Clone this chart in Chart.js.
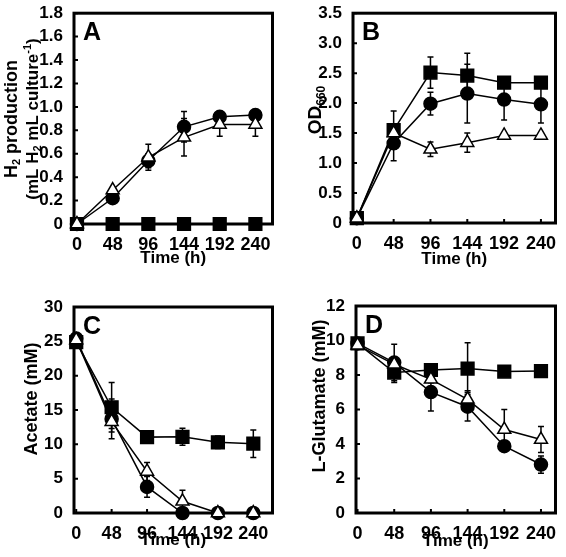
<!DOCTYPE html>
<html>
<head>
<meta charset="utf-8">
<script src="https://cdn.jsdelivr.net/npm/chart.js@4.4.0/dist/chart.umd.min.js"></script>
<style>
  html, body { margin: 0; padding: 0; background: #fff; }
  #figure { position: relative; width: 566px; height: 557px; }
  #figure canvas { position: absolute; }
</style>
</head>
<body>
<div id="figure">
  <canvas id="panelA" width="283" height="278" style="left:0;top:0"></canvas>
  <canvas id="panelB" width="283" height="278" style="left:283px;top:0"></canvas>
  <canvas id="panelC" width="283" height="278" style="left:0;top:279px"></canvas>
  <canvas id="panelD" width="283" height="278" style="left:283px;top:279px"></canvas>
</div>
<script>
// sampling times (h)
const timeH = [0, 48, 96, 144, 192, 240];
const timeTicks = ['0', '48', '96', '144', '192', '240'];

// A: H2 production
const aCircle = [0, 0.22, 0.54, 0.83, 0.915, 0.93];
const aCircleErr = [0, 0.02, 0.06, 0.13, 0.03, 0.02];
const aTriangle = [0, 0.29, 0.57, 0.74, 0.85, 0.85];
const aTriangleErr = [0, 0.02, 0.11, 0.16, 0.1, 0.1];
const aSquare = [0, 0, 0, 0, 0, 0];
const aSquareErr = [0, 0, 0, 0, 0, 0];
const aTicks = ['0', '0.2', '0.4', '0.6', '0.8', '1.0', '1.2', '1.4', '1.6', '1.8'];
const aTitle = [
  [['H'], ['2', 'sub'], [' production']],
  [['(mL H'], ['2', 'sub'], [' mL culture'], ['-1', 'sup'], [')']]
];

// B: OD660
const bCircle = [0.08, 1.33, 1.99, 2.16, 2.06, 1.98];
const bCircleErr = [0, 0.29, 0.19, 0.49, 0.34, 0.31];
const bTriangle = [0.08, 1.5, 1.23, 1.34, 1.46, 1.46];
const bTriangleErr = [0, 0.05, 0.12, 0.16, 0.03, 0.03];
const bSquare = [0.08, 1.55, 2.51, 2.46, 2.34, 2.34];
const bSquareErr = [0, 0.32, 0.26, 0.37, 0.05, 0.05];
const bTicks = ['0', '0.5', '1.0', '1.5', '2.0', '2.5', '3.0', '3.5'];
const bTitle = [[['OD'], ['660', 'sub']]];

// C: acetate
const cCircle = [25.4, 13.7, 3.8, 0, 0, 0];
const cCircleErr = [0, 2.9, 1.5, 0, 0, 0];
const cTriangle = [25.2, 13.3, 6.05, 1.7, 0, 0];
const cTriangleErr = [0, 1, 1.3, 1.6, 0, 0];
const cSquare = [24.9, 15.4, 11.05, 11.1, 10.3, 10.1];
const cSquareErr = [0, 3.6, 0.4, 1.25, 0.9, 2.0];
const cTicks = ['0', '5', '10', '15', '20', '25', '30'];
const cTitle = [[['Acetate (mM)']]];

// D: L-glutamate
const dCircle = [9.83, 8.72, 7.01, 6.16, 3.87, 2.81];
const dCircleErr = [0, 1.06, 1.1, 0.83, 0.15, 0.5];
const dTriangle = [9.73, 8.62, 7.75, 6.59, 4.84, 4.26];
const dTriangleErr = [0, 0.2, 0.2, 0.5, 1.16, 0.75];
const dSquare = [9.83, 8.14, 8.29, 8.37, 8.2, 8.23];
const dSquareErr = [0, 0.58, 0.1, 1.5, 0.1, 0.1];
const dTicks = ['0', '2', '4', '6', '8', '10', '12'];
const dTitle = [[['L-Glutamate (mM)']]];

const FONT = '"Liberation Sans", Arial, sans-serif';

// rotated y title with sub/superscripts
function drawRotatedRich(ctx, runs, cx, cy, size) {
  ctx.save();
  ctx.translate(cx, cy);
  ctx.rotate(-Math.PI / 2);
  ctx.textBaseline = 'middle';
  ctx.fillStyle = '#000';
  let total = 0;
  const parts = runs.map(([t, kind]) => {
    const s = kind ? Math.round(size * 0.62) : size;
    ctx.font = `bold ${s}px ${FONT}`;
    const w = ctx.measureText(t).width;
    total += w;
    return { t, kind, s, w };
  });
  let x = -total / 2;
  parts.forEach(p => {
    ctx.font = `bold ${p.s}px ${FONT}`;
    const dy = p.kind === 'sub' ? size * 0.3 : p.kind === 'sup' ? -size * 0.3 : 0;
    ctx.fillText(p.t, x, dy);
    x += p.w;
  });
  ctx.restore();
}

// frame, inward ticks, error bars, panel letter, y title
const framePlugin = {
  id: 'frame',
  beforeDatasetsDraw(chart, args, opts) {
    const { ctx, chartArea: a } = chart;
    const xs = chart.scales.x, ys = chart.scales.y;
    ctx.save();
    ctx.strokeStyle = '#000';

    // error bars
    ctx.lineWidth = 1.5;
    chart.data.datasets.forEach((ds) => {
      (ds.errors || []).forEach((e, i) => {
        if (!e) return;
        const x = xs.getPixelForValue(ds.data[i].x);
        const y1 = ys.getPixelForValue(ds.data[i].y + e);
        const y2 = ys.getPixelForValue(Math.max(ds.data[i].y - e, 0));
        ctx.beginPath();
        ctx.moveTo(x, y1); ctx.lineTo(x, y2);
        ctx.moveTo(x - 3, y1); ctx.lineTo(x + 3, y1);
        ctx.moveTo(x - 3, y2); ctx.lineTo(x + 3, y2);
        ctx.stroke();
      });
    });

    // inward ticks
    ctx.lineWidth = 2;
    ctx.beginPath();
    xs.ticks.forEach((t, i) => {
      const x = xs.getPixelForTick(i);
      ctx.moveTo(x, a.bottom); ctx.lineTo(x, a.bottom - 4);
    });
    ys.ticks.forEach((t, i) => {
      const y = ys.getPixelForTick(i);
      ctx.moveTo(a.left, y); ctx.lineTo(a.left + 4, y);
    });
    ctx.stroke();

    // frame
    ctx.lineWidth = 3;
    ctx.strokeRect(a.left, a.top, a.right - a.left, a.bottom - a.top);

    // panel letter
    ctx.fillStyle = '#000';
    ctx.font = 'bold 25px ' + FONT;
    ctx.textBaseline = 'alphabetic';
    ctx.fillText(opts.letter, a.left + 9, a.top + 27);
    ctx.restore();

    // y title lines
    opts.title.forEach((line, k) => {
      drawRotatedRich(ctx, line, opts.titleX[k], opts.titleY, opts.titleSize[k]);
    });
  }
};

function series(values, errors, style) {
  const base = {
    data: timeH.map((t, i) => ({ x: t, y: values[i] })),
    errors: errors,
    borderColor: '#000',
    borderWidth: 1.5,
    pointBorderColor: '#000',
    pointBorderWidth: 1.5,
    pointHoverRadius: 0,
    clip: false
  };
  if (style === 'circle') return { ...base, pointStyle: 'circle', pointRadius: 6.5, pointBackgroundColor: '#000' };
  if (style === 'rect') return { ...base, pointStyle: 'rect', pointRadius: 9, pointBackgroundColor: '#000' };
  return { ...base, pointStyle: 'triangle', pointRadius: 7.5, pointBackgroundColor: '#fff' };
}

function makePanel(p) {
  const canvas = document.getElementById(p.id);
  const H = canvas.height, W = canvas.width;
  new Chart(canvas, {
    type: 'line',
    data: {
      datasets: [
        series(p.triangle, p.triangleErr, 'triangle'),
        series(p.circle, p.circleErr, 'circle'),
        series(p.square, p.squareErr, 'rect')
      ]
    },
    options: {
      responsive: false,
      animation: false,
      events: [],
      layout: { padding: { top: p.area.top, right: W - p.area.right, left: 0, bottom: 0 } },
      plugins: {
        legend: { display: false },
        tooltip: { enabled: false },
        frame: { letter: p.letter, title: p.yTitle, titleX: p.titleX, titleY: p.titleY, titleSize: p.titleSize }
      },
      scales: {
        x: {
          type: 'linear',
          min: p.xMin,
          max: p.xMax,
          afterBuildTicks: (scale) => { scale.ticks = timeH.map(v => ({ value: v })); },
          afterFit: (scale) => { scale.height = H - p.area.bottom; },
          grid: { display: false },
          border: { display: false },
          ticks: {
            color: '#000',
            font: { family: FONT, size: 18, weight: 'bold' },
            padding: 2,
            maxRotation: 0,
            autoSkip: false,
            callback: (v, i) => timeTicks[i]
          },
          title: {
            display: true,
            text: 'Time (h)',
            color: '#000',
            font: { family: FONT, size: 17, weight: 'bold' },
            padding: { top: 0, bottom: p.xTitlePad }
          }
        },
        y: {
          min: 0,
          max: p.yMax,
          afterBuildTicks: (scale) => { scale.ticks = p.yTicks.map((s, i) => ({ value: i * p.yStep })); },
          afterFit: (scale) => { scale.width = p.area.left; },
          grid: { display: false },
          border: { display: false },
          ticks: {
            color: '#000',
            font: { family: FONT, size: 17, weight: 'bold' },
            padding: 3,
            callback: (v, i) => p.yTicks[i]
          },
          title: { display: false }
        }
      }
    },
    plugins: [framePlugin]
  });
}

makePanel({
  id: 'panelA', letter: 'A', xMin: -4, xMax: 263, yMax: 1.8, yStep: 0.2, yTicks: aTicks,
  yTitle: aTitle, titleX: [12, 33], titleY: 119, titleSize: [18, 17],
  circle: aCircle, circleErr: aCircleErr, triangle: aTriangle, triangleErr: aTriangleErr, square: aSquare, squareErr: aSquareErr,
  area: { left: 74, right: 274, top: 7, bottom: 224 }, xTitlePad: 9
});
makePanel({
  id: 'panelB', letter: 'B', xMin: -5, xMax: 259, yMax: 3.5, yStep: 0.5, yTicks: bTicks,
  yTitle: bTitle, titleX: [33], titleY: 110, titleSize: [19],
  circle: bCircle, circleErr: bCircleErr, triangle: bTriangle, triangleErr: bTriangleErr, square: bSquare, squareErr: bSquareErr,
  area: { left: 70, right: 275, top: 7, bottom: 223 }, xTitlePad: 8
});
makePanel({
  id: 'panelC', letter: 'C', xMin: -3, xMax: 266, yMax: 30, yStep: 5, yTicks: cTicks,
  yTitle: cTitle, titleX: [32], titleY: 120, titleSize: [18],
  circle: cCircle, circleErr: cCircleErr, triangle: cTriangle, triangleErr: cTriangleErr, square: cSquare, squareErr: cSquareErr,
  area: { left: 74, right: 276, top: 28, bottom: 234 }, xTitlePad: 6
});
makePanel({
  id: 'panelD', letter: 'D', xMin: -2, xMax: 259, yMax: 12, yStep: 2, yTicks: dTicks,
  yTitle: dTitle, titleX: [37], titleY: 117, titleSize: [18],
  circle: dCircle, circleErr: dCircleErr, triangle: dTriangle, triangleErr: dTriangleErr, square: dSquare, squareErr: dSquareErr,
  area: { left: 73, right: 275, top: 27, bottom: 234 }, xTitlePad: 5
});
</script>
</body>
</html>
